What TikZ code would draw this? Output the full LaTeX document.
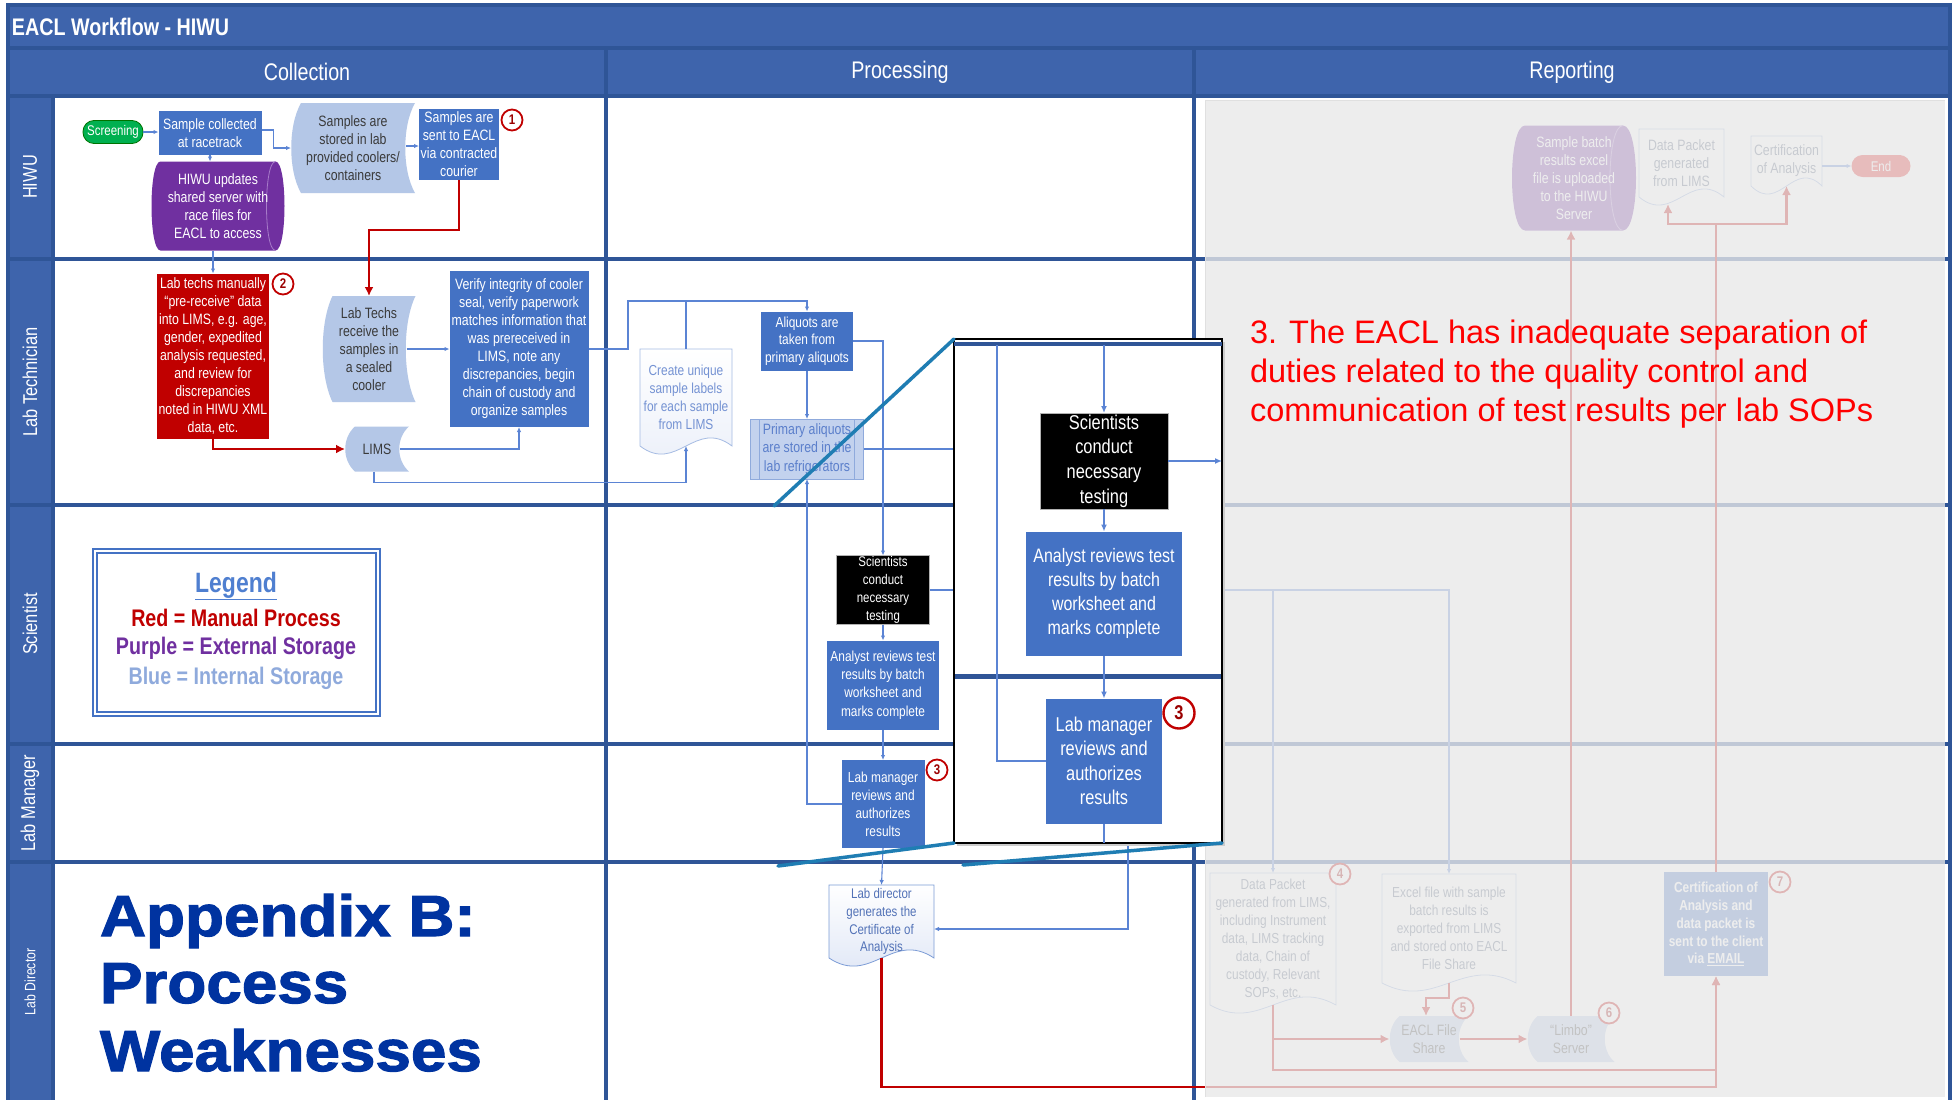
\documentclass[tikz,border=0pt]{standalone}
\usepackage{fontspec}
\setmainfont{Liberation Sans}
\newfontfamily\nf[FakeStretch=0.82]{Liberation Sans}
\newfontfamily\hf[FakeStretch=1.1,BoldFeatures={FakeBold=2}]{Liberation Sans}
\usetikzlibrary{arrows.meta}
\pgfdeclarelayer{grid}
\pgfdeclarelayer{shp}
\pgfdeclarelayer{fade}
\pgfdeclarelayer{top}
\pgfsetlayers{grid,shp,main,fade,top}
\newcommand{\fsz}[2]{\fontsize{#1}{#2}\selectfont}

\definecolor{hdrblue}{HTML}{3E64AC}
\definecolor{gridblue}{HTML}{2F5597}
\definecolor{boxblue}{HTML}{4472C4}
\definecolor{connc}{HTML}{5B84D4}
\definecolor{ltblue}{HTML}{B4C7E7}
\definecolor{primfill}{HTML}{C3D2EE}
\definecolor{redc}{HTML}{C00000}
\definecolor{purp}{HTML}{7030A0}
\definecolor{purpline}{HTML}{A77BC9}
\definecolor{greenc}{HTML}{00B050}
\definecolor{docedge}{HTML}{8FAADC}
\definecolor{doctext}{HTML}{5B7FCB}
\definecolor{docfill}{HTML}{DCE4F5}
\definecolor{tealc}{HTML}{1F7DB3}
\definecolor{legblue}{HTML}{4F7FD0}
\definecolor{legltblue}{HTML}{8FAADC}
\definecolor{appblue}{HTML}{0033A0}
\definecolor{brightred}{HTML}{FF0000}
\definecolor{fadegray}{HTML}{E9E9E9}
\definecolor{darktxt}{HTML}{3A3A3A}
\definecolor{reptext}{HTML}{4F5F7A}
\definecolor{endred}{HTML}{E02020}

% stored-data outline: cx cy w h fill
\newcommand{\stshape}[5]{%
\begin{pgfonlayer}{shp}
\fill[#5] ({#1-#3/2+10},{#2-#4/2}) -- ({#1+#3/2},{#2-#4/2})
 .. controls ({#1+#3/2-13},{#2-#4/4}) and ({#1+#3/2-13},{#2+#4/4}) .. ({#1+#3/2},{#2+#4/2})
 -- ({#1-#3/2+10},{#2+#4/2})
 .. controls ({#1-#3/2-3},{#2+#4/4}) and ({#1-#3/2-3},{#2-#4/4}) .. ({#1-#3/2+10},{#2-#4/2}) -- cycle;
\end{pgfonlayer}}
% document outline: cx cy w h style
\newcommand{\docshape}[5]{%
\begin{pgfonlayer}{shp}
\path[#5] ({#1-#3/2},{#2-#4/2}) -- ({#1+#3/2},{#2-#4/2}) -- ({#1+#3/2},{#2+#4/2})
 .. controls ({#1+#3/2-0.4*#3},{#2+#4/2-28}) and ({#1-#3/2+0.4*#3},{#2+#4/2+28}) .. ({#1-#3/2},{#2+#4/2}) -- cycle;
\end{pgfonlayer}}
% horizontal cylinder: cx cy w h fill linecolor r
\newcommand{\cylshape}[7]{%
\begin{pgfonlayer}{shp}
\fill[#5] ({#1-#3/2+#7},{#2-#4/2}) -- ({#1+#3/2-#7},{#2-#4/2})
 .. controls ({#1+#3/2+#7/3},{#2-#4/2}) and ({#1+#3/2+#7/3},{#2+#4/2}) .. ({#1+#3/2-#7},{#2+#4/2})
 -- ({#1-#3/2+#7},{#2+#4/2})
 .. controls ({#1-#3/2-#7/3},{#2+#4/2}) and ({#1-#3/2-#7/3},{#2-#4/2}) .. ({#1-#3/2+#7},{#2-#4/2}) -- cycle;
\draw[#6, line width=0.8pt] ({#1+#3/2-#7},{#2-#4/2}) .. controls ({#1+#3/2-7*#7/3},{#2-#4/2}) and ({#1+#3/2-7*#7/3},{#2+#4/2}) .. ({#1+#3/2-#7},{#2+#4/2});
\end{pgfonlayer}}

\begin{document}
\begin{tikzpicture}[x=1pt, y=-1pt,
 every node/.style={inner sep=0pt, outer sep=0pt},
 proc/.style={rectangle, fill=boxblue, text=white, align=center, font=\nf\fsz{15}{18}},
 blackproc/.style={rectangle, fill=black, draw=gray!60, line width=0.6pt, text=white, align=center, font=\nf\fsz{14}{17.8}},
 redproc/.style={rectangle, fill=redc, text=white, align=center, font=\nf\fsz{15}{18}},
 shapetxt/.style={rectangle, align=center, text=darktxt, font=\nf\fsz{15}{18}},
 term/.style={rectangle, rounded corners=11pt, text=white, font=\nf\fsz{14}{16}},
 circ/.style={circle, draw=redc, line width=1.8pt, fill=white, minimum size=21pt, text=redc!80!black, font=\nf\bfseries\fsz{14}{14}},
 conn/.style={draw=connc, line width=1.1pt, -{Latex[length=5pt,width=4.5pt]}},
 connplain/.style={draw=connc, line width=1.1pt},
 bigconn/.style={draw=connc, line width=1.5pt, -{Latex[length=7pt,width=6pt]}},
 bigplain/.style={draw=connc, line width=1.5pt},
 redarrow/.style={draw=redc, line width=2.6pt, -{Latex[length=9pt,width=9pt]}},
 redplain/.style={draw=redc, line width=2.6pt},
 gridline/.style={draw=gridblue, line width=3.5pt},
 lanelbl/.style={rotate=90, text=white, font=\nf\fsz{20}{22}},
 hdrtxt/.style={text=white, font=\nf\fsz{24}{26}},
 tealline/.style={draw=tealc, line width=3.5pt, line cap=round},
 legtxt/.style={font=\nf\bfseries\fsz{24}{26}},
 apptxt/.style={anchor=base west, text=appblue, font=\hf\bfseries\fsz{58}{60}},
 doctxt/.style={shapetxt, text=doctext, font=\nf\fsz{14.5}{18}},
 reptxt/.style={shapetxt, text=reptext, font=\nf\fsz{14.5}{17.9}},
 docline/.style={draw=docedge, line width=0.8pt},
]
\useasboundingbox (0,0) rectangle (1955,1100);

% ---------------- grid ----------------
\begin{pgfonlayer}{grid}
\fill[white] (0,0) rectangle (1955,1100);
\fill[hdrblue] (8,5) rectangle (1950,96);
\fill[hdrblue] (8,96) rectangle (53,1100);
\draw[gridline] (8,48) -- (1950,48);
\draw[gridline] (8,96) -- (1950,96);
\draw[gridline] (8,259) -- (1950,259);
\draw[gridline] (8,505) -- (1950,505);
\draw[gridline] (8,744) -- (1950,744);
\draw[gridline] (8,862) -- (1950,862);
\draw[gridline] (53,96) -- (53,1100);
\draw[gridline] (606,48) -- (606,1100);
\draw[gridline] (1194,48) -- (1194,1100);
\draw[gridline] (8,5) rectangle (1950,1104);
\node[anchor=west, text=white, font=\nf\bfseries\fsz{24}{26}] (title) at (12,27) {EACL Workflow - HIWU};
\node[hdrtxt] (hcol) at (307,72) {Collection};
\node[hdrtxt] (hproc) at (900,72) {Processing};
\node[hdrtxt] (hrep) at (1572,72) {Reporting};
\node[lanelbl] (lane1) at (30,177) {HIWU};
\node[lanelbl] (lane2) at (30,382) {Lab Technician};
\node[lanelbl] (lane3) at (30,624) {Scientist};
\node[lanelbl] (lane4) at (30,803) {Lab Manager};
\node[lanelbl, font=\nf\fsz{15}{17}] (lane5) at (30,982) {Lab Director};
\end{pgfonlayer}

% ---------------- Collection ----------------
\node[term, fill=greenc, draw=green!45!black, line width=0.8pt, minimum width=60pt, minimum height=23pt] (screening) at (113,132) {Screening};
\node[proc, minimum width=103pt, minimum height=44pt] (collected) at (210,133) {Sample collected\\at racetrack};
\node[shapetxt, minimum width=124pt, minimum height=90pt] (stored) at (353,148) {Samples are\\stored in lab\\provided coolers/\\containers};
\stshape{353}{148}{124}{90}{ltblue}
\node[proc, minimum width=80pt, minimum height=71pt] (sent) at (459,144) {Samples are\\sent to EACL\\via contracted\\courier};
\node[circ] (n1) at (512,120) {1};
\node[shapetxt, text=white, minimum width=133pt, minimum height=89pt] (hiwucyl) at (218,206) {HIWU updates\\shared server with\\race files for\\EACL to access};
\cylshape{218}{206}{133}{89}{purp}{purpline}{9}

\node[redproc, minimum width=112pt, minimum height=165pt] (redbox) at (213,356) {Lab techs manually\\“pre-receive” data\\into LIMS, e.g. age,\\gender, expedited\\analysis requested,\\and review for\\discrepancies\\noted in HIWU XML\\data, etc.};
\node[circ] (n2) at (283,284) {2};
\node[shapetxt, minimum width=93pt, minimum height=106pt] (labrecv) at (369,349) {Lab Techs\\receive the\\samples in\\a sealed\\cooler};
\stshape{369}{349}{93}{106}{ltblue}
\node[proc, minimum width=139pt, minimum height=156pt] (verify) at (519,349) {Verify integrity of cooler\\seal, verify paperwork\\matches information that\\was prereceived in\\LIMS, note any\\discrepancies, begin\\chain of custody and\\organize samples};
\node[shapetxt, minimum width=64pt, minimum height=45pt] (lims) at (377,449) {LIMS};
\stshape{377}{449}{64}{45}{ltblue}

% legend
\node[draw=boxblue, line width=2pt, double=white, double distance=2pt, minimum width=283pt, minimum height=163pt] (legend) at (236,632) {};
\node[font=\nf\bfseries\fsz{28}{30}, text=legblue] (lg0) at (236,586) {\underline{Legend}};
\node[legtxt, text=redc] (lg1) at (236,618) {Red = Manual Process};
\node[legtxt, text=purp] (lg2) at (236,648) {Purple = External Storage};
\node[legtxt, text=legltblue] (lg3) at (236,678) {Blue = Internal Storage};

% appendix title
\node[apptxt] (app1) at (100,936) {Appendix B:};
\node[apptxt] (app2) at (100,1003) {Process};
\node[apptxt] (app3) at (100,1071) {Weaknesses};

% ---------------- Processing ----------------
\node[doctxt, text=doctext!85, minimum width=92pt, minimum height=97pt] (create) at (686,397.5) {Create unique\\sample labels\\for each sample\\from LIMS};
\docshape{686}{397.5}{92}{97}{draw=docedge!80, line width=0.8pt, top color=white, bottom color=docfill!60}
\node[proc, font=\nf\fsz{14.5}{17.5}, minimum width=92pt, minimum height=59pt] (aliq) at (807,341) {Aliquots are\\taken from\\primary aliquots};
\node[rectangle, fill=primfill, draw=docedge, line width=0.8pt, text=doctext, align=center, font=\nf\fsz{15}{18.5}, minimum width=113pt, minimum height=60pt] (primary) at (807,449) {Primary aliquots\\are stored in the\\lab refrigerators};
\draw[docline] ([xshift=9pt]primary.north west) -- ([xshift=9pt]primary.south west) ([xshift=-9pt]primary.north east) -- ([xshift=-9pt]primary.south east);
\node[blackproc, minimum width=93pt, minimum height=69pt] (scis) at (883,590) {Scientists\\conduct\\necessary\\testing};
\node[proc, font=\nf\fsz{14.5}{18.3}, minimum width=112pt, minimum height=89pt] (anas) at (883,685) {Analyst reviews test\\results by batch\\worksheet and\\marks complete};
\node[proc, font=\nf\fsz{14.5}{17.9}, minimum width=83pt, minimum height=88pt] (mgrs) at (883,804) {Lab manager\\reviews and\\authorizes\\results};
\node[circ] (n3s) at (937,770) {3};
\node[doctxt, text=doctext!90!black, font=\nf\fsz{14}{17.9}, minimum width=105pt, minimum height=73pt] (labdir) at (881.5,921.5) {Lab director\\generates the\\Certificate of\\Analysis};
\docshape{881.5}{921.5}{105}{73}{draw=boxblue!70, line width=0.8pt, top color=white, bottom color=docfill}

% ---------------- Reporting ----------------
\node[shapetxt, text=white, minimum width=124pt, minimum height=105pt] (rcyl) at (1574,178) {Sample batch\\results excel\\file is uploaded\\to the HIWU\\Server};
\cylshape{1574}{178}{124}{105}{purp}{purpline}{13}
\node[reptxt, font=\nf\fsz{15}{18}, minimum width=85pt, minimum height=68pt] (dpk) at (1681.5,163) {Data Packet\\generated\\from LIMS};
\docshape{1681.5}{163}{85}{68}{docline, fill=white}
\node[reptxt, font=\nf\fsz{15}{18}, minimum width=71pt, minimum height=50pt] (cert) at (1786.5,161) {Certification\\of Analysis};
\docshape{1786.5}{161}{71}{50}{docline, fill=white}
\node[term, fill=endred, minimum width=59pt, minimum height=22pt] (end) at (1881,166) {End};
\node[reptxt, minimum width=126pt, minimum height=132pt] (dpbig) at (1273,939) {Data Packet\\generated from LIMS,\\including Instrument\\data, LIMS tracking\\data, Chain of\\custody, Relevant\\SOPs, etc.};
\docshape{1273}{939}{126}{132}{docline, fill=white}
\node[circ] (n4) at (1340,874) {4};
\node[reptxt, minimum width=134pt, minimum height=109pt] (excel) at (1449,928.5) {Excel file with sample\\batch results is\\exported from LIMS\\and stored onto EACL\\File Share};
\docshape{1449}{928.5}{134}{109}{docline, fill=white}
\node[shapetxt, minimum width=79pt, minimum height=46pt] (share) at (1429,1039) {EACL File\\Share};
\stshape{1429}{1039}{79}{46}{ltblue}
\node[circ] (n5) at (1463,1008) {5};
\node[shapetxt, minimum width=87pt, minimum height=46pt] (limbo) at (1571,1039) {“Limbo”\\Server};
\stshape{1571}{1039}{87}{46}{ltblue}
\node[circ] (n6) at (1609,1013) {6};
\node[proc, font=\nf\bfseries\fsz{14.5}{17.8}, minimum width=104pt, minimum height=104pt] (certsend) at (1716,924) {Certification of\\Analysis and\\data packet is\\sent to the client\\via \underline{EMAIL}};
\node[circ] (n7) at (1780,882) {7};

% ---------------- connectors ----------------
\draw[conn] (screening.east) -- (screening.east -| collected.west);
\draw[conn] ([yshift=3pt]collected.east) -- ++(12,0) |- (stored.west);
\draw[conn] ([xshift=-9pt,yshift=2pt]stored.east) -- ([yshift=-2pt]sent.west);
\draw[conn] (collected.south) -- (collected.south |- hiwucyl.north);
\draw[conn] (hiwucyl.south -| redbox.north) -- (redbox.north);
\coordinate (rc1) at (460,230);
\draw[redarrow] (sent.south) -- (sent.south |- rc1) -| (labrecv.north);
\draw[redarrow] (redbox.south) |- (lims.west);
\draw[conn] ([xshift=-9pt]labrecv.east) -- (verify.west);
\draw[conn] ([xshift=-9pt]lims.east) -| (verify.south);
\draw[conn] ([xshift=-3pt]lims.south) -- ++(0,11) -| (create.south);
\coordinate (v1) at (628,301);
\draw[conn] (verify.east) -| (v1) -| (aliq.north);
\draw[connplain] (create.north |- v1) -- (create.north);
\draw[conn] (aliq.south) -- (primary.north);
\draw[conn] (aliq.east) -| (scis.north);
\coordinate (pout) at (960,449);
\draw[connplain] (primary.east) -- (pout);
\draw[conn] (mgrs.west) -| (primary.south);
\draw[conn] (scis.south) -- (anas.north);
\draw[conn] (anas.south) -- (mgrs.north);
\draw[conn] (mgrs.south) -- (labdir.north);
\coordinate (cb) at (1128,843);
\draw[conn] (cb) |- ([yshift=-7.5pt]labdir.east);
\coordinate (rbr) at (1716,1087);
\draw[redarrow] (labdir.south) |- (rbr) -- (certsend.south);

% reporting connectors
\draw[conn] (scis.east) -| (excel.north);
\draw[conn] (dpbig.north |- scis.east) -- (dpbig.north);
\draw[redarrow] (dpbig.south) |- (share.west);
\coordinate (rj) at (1273,1070);
\draw[redarrow] (dpbig.south) -- (rj) -| (certsend.south);
\coordinate (ex1) at (1426,998);
\draw[redarrow] (excel.south) |- (ex1) -- (ex1 |- share.north);
\draw[redarrow] ([xshift=-9pt]share.east) -- (limbo.west);
\draw[redarrow] (limbo.north) -- (limbo.north |- rcyl.south);
\coordinate (rt) at (1716,224);
\draw[redplain] (certsend.north) -- (rt);
\coordinate (dpin) at (1668,204);
\draw[redarrow] (rt) -| (dpin);
\draw[redarrow] (rt) -| (cert.south);
\draw[conn] (cert.east |- end.west) -- (end.west);

% ---------------- fade over Reporting ----------------
\begin{pgfonlayer}{fade}
\fill[fadegray, fill opacity=0.78] (1205,100) rectangle (1945,1097);
\draw[black!12, line width=1pt] (1205,1097) -- (1205,100) -- (1945,100);
\end{pgfonlayer}

% ---------------- callout ----------------
\begin{pgfonlayer}{top}
\fill[black!20] (957,342) rectangle (1225,846);
\node[draw=black, line width=2.5pt, fill=white, minimum width=268pt, minimum height=504pt] (callout) at (1088,591) {};
\draw[draw=gridblue, line width=4.5pt] ([yshift=-5pt]callout.north west) -- ([yshift=-5pt]callout.north east);
\coordinate (cl1) at (955,676);
\coordinate (cl2) at (1221,676);
\draw[draw=gridblue, line width=5pt] (cl1) -- (cl2);
\node[blackproc, font=\nf\fsz{20}{24.7}, minimum width=128pt, minimum height=96pt] (scib) at (1104,461) {Scientists\\conduct\\necessary\\testing};
\node[proc, font=\nf\fsz{19.5}{24.2}, minimum width=156pt, minimum height=124pt] (anab) at (1104,593.5) {Analyst reviews test\\results by batch\\worksheet and\\marks complete};
\node[proc, font=\nf\fsz{20}{24.5}, minimum width=116pt, minimum height=125pt] (mgrb) at (1104,761) {Lab manager\\reviews and\\authorizes\\results};
\node[circ, minimum size=31pt, line width=2.4pt, font=\nf\bfseries\fsz{20}{20}] (n3b) at (1179,713) {3};
\coordinate (k1) at (997,345);
\draw[bigplain] (k1) |- (mgrb.west);
\draw[bigconn] (scib.north |- k1) -- (scib.north);
\draw[bigconn] (scib.south) -- (anab.north);
\draw[bigconn] (anab.south) -- (mgrb.north);
\draw[bigconn] (scib.east) -- (scib.east -| callout.east);
\draw[bigplain] (mgrb.south) -- (mgrb.south |- callout.south);
\coordinate (t1) at (774,506);
\coordinate (t2) at (778,866);
\coordinate (t3) at (963,865);
\draw[tealline] (callout.north west) -- (t1);
\draw[tealline] (callout.south west) -- (t2);
\draw[tealline] (callout.south east) -- (t3);
\node[anchor=west, align=left, text=brightred, font=\fsz{32.5}{39}] (weak3) at (1250,374) {3. The EACL has inadequate separation of\\duties related to the quality control and\\communication of test results per lab SOPs};
\end{pgfonlayer}
\end{tikzpicture}
\end{document}
